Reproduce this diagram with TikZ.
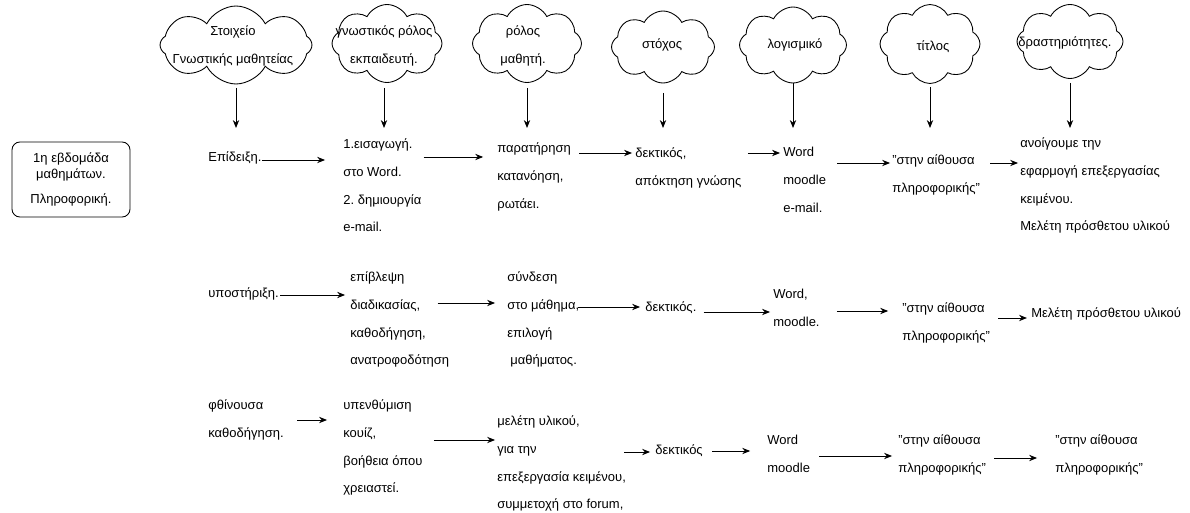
\documentclass[tikz,border=0pt]{standalone}
\usepackage{fontspec}
\setmainfont{Liberation Sans}
\usetikzlibrary{arrows.meta, positioning, shapes.symbols}
\frenchspacing

\begin{document}
\begin{tikzpicture}[x=0.02cm, y=-0.02cm,
  every node/.style={font=\fontsize{7.4}{15.9}\selectfont, inner sep=0pt},
  txt/.style={anchor=north west, align=left},
  idea/.style={cloud, draw, cloud puffs=8, cloud puff arc=125, cloud ignores aspect, line width=0.5pt},
  arr/.style={-{Stealth[length=4.5pt, width=3.6pt]}, line width=0.5pt}]
\useasboundingbox (0,0) rectangle (1190,513);

% week box
\node[draw, rounded corners=4.5pt, line width=0.5pt, minimum width=2.36cm, minimum height=1.5cm,
  align=center, font=\fontsize{7.4}{9}\selectfont] (week) at (71,179.5)
  {1η εβδομάδα\\μαθημάτων.\\[5.7pt]Πληροφορική.};

% clouds (column heads)
\node[idea, minimum width=3.04cm, minimum height=1.56cm] (k1) at (236,45) {};
\node[idea, minimum width=2.2cm, minimum height=1.56cm] (k2) at (387,43.5) {};
\node[idea, minimum width=2.18cm, minimum height=1.56cm] (k3) at (527,43.5) {};
\node[idea, minimum width=2.06cm, minimum height=1.44cm] (k4) at (663,47) {};
\node[idea, minimum width=2.14cm, minimum height=1.52cm] (k5) at (793,45) {};
\node[idea, minimum width=2.0cm, minimum height=1.58cm] (k6) at (930,44) {};
\node[idea, minimum width=2.12cm, minimum height=1.48cm] (k7) at (1070,41.5) {};
\node[align=center] (k1t) at (233,46) {Στοιχείο\\Γνωστικής μαθητείας};
\node[align=center] (k2t) at (384,46) {γνωστικός ρόλος\\εκπαιδευτή.};
\node[align=center] (k3t) at (523,46) {ρόλος\\μαθητή.};
\node (k4t) at (662,45) {στόχος};
\node (k5t) at (795,45) {λογισμικό};
\node (k6t) at (933,47) {τίτλος};
\node (k7t) at (1065,43) {δραστηριότητες.};

\draw[arr] (k1.south |- 0,88) -- (k1.south |- 0,128);
\draw[arr] (k2t.south |- 0,88) -- (k2t.south |- 0,128);
\draw[arr] (k3.south |- 0,88) -- (k3.south |- 0,128);
\draw[arr] (k4.south |- 0,93) -- (k4.south |- 0,128);
\draw[arr] (k5.south |- 0,83) -- (k5.south |- 0,128);
\draw[arr] (k6.south |- 0,87) -- (k6.south |- 0,128);
\draw[arr] (k7.south |- 0,83) -- (k7.south |- 0,128);

% row 1
\node[txt] (epid) at (208,151) {Επίδειξη.};
\node[txt] (intro) at (343,138) {1.εισαγωγή.\\στο Word.\\2. δημιουργία\\e-mail.};
\node[txt] (obs) at (497,142) {παρατήρηση\\κατανόηση,\\ρωτάει.};
\node[txt] (rec1) at (635,147) {δεκτικός,\\απόκτηση γνώσης};
\node[txt] (sw1) at (783,147) {Word\\moodle\\e-mail.};
\node[txt] (room1) at (892,154) {"στην αίθουσα\\πληροφορικής"};
\node[txt] (act1) at (1020,137) {ανοίγουμε την\\εφαρμογή επεξεργασίας\\κειμένου.\\Μελέτη πρόσθετου υλικού};

\draw[arr, shorten >=10.2pt] (epid.east |- 0,160) -- (intro.west |- 0,160);
\draw[arr, shorten <=1.1pt, shorten >=7.9pt] (intro.east |- 0,157) -- (obs.west |- 0,157);
\draw[arr, shorten <=4.5pt, shorten >=1.7pt] (obs.east |- 0,153) -- (rec1.west |- 0,153);
\draw[arr, shorten <=3.4pt, shorten >=1.7pt] (rec1.east |- 0,153) -- (sw1.west |- 0,153);
\draw[arr, shorten <=6.2pt, shorten >=1.1pt] (sw1.east |- 0,163) -- (room1.west |- 0,163);
\draw[arr, shorten <=5.7pt, shorten >=1.1pt] (room1.east |- 0,163) -- (act1.west |- 0,163);

% row 2
\node[txt] (supp) at (208,287) {υποστήριξη.};
\node[txt] (superv) at (350,271) {επίβλεψη\\διαδικασίας,\\καθοδήγηση,\\ανατροφοδότηση};
\node[txt] (conn) at (507,271) {σύνδεση\\στο μάθημα,\\επιλογή\\\hspace{1.7pt}μαθήματος.};
\node[txt] (rec2) at (645,301) {δεκτικός.};
\node[txt] (sw2) at (773,289) {Word,\\moodle.};
\node[txt] (room2) at (902,302) {"στην αίθουσα\\πληροφορικής"};
\node[txt] (study2) at (1031,307) {Μελέτη πρόσθετου υλικού};

\draw[arr, shorten <=0.6pt, shorten >=2.8pt] (supp.east |- 0,295) -- (superv.west |- 0,295);
\draw[arr, shorten <=-6.8pt, shorten >=6.8pt] (superv.east |- 0,303) -- (conn.west |- 0,303);
\draw[arr, shorten <=-1.1pt, shorten >=2.8pt] (conn.east |- 0,307) -- (rec2.west |- 0,307);
\draw[arr, shorten <=4pt, shorten >=1.7pt] (rec2.east |- 0,312) -- (sw2.west |- 0,312);
\draw[arr, shorten <=9.6pt, shorten >=7.9pt] (sw2.east |- 0,311) -- (room2.west |- 0,311);
\draw[arr, shorten <=4.5pt, shorten >=2.3pt] (room2.east |- 0,318) -- (study2.west |- 0,318);

% row 3
\node[txt] (fade) at (208,399) {φθίνουσα\\καθοδήγηση.};
\node[txt] (remind) at (343,399) {υπενθύμιση\\κουίζ,\\βοήθεια όπου\\χρειαστεί.};
\node[txt] (study3) at (497,415) {μελέτη υλικού,\\για την\\επεξεργασία κειμένου,\\συμμετοχή στο forum,};
\node[txt] (rec3) at (655,444) {δεκτικός};
\node[txt] (sw3) at (767,435) {Word\\moodle};
\node[txt] (room3) at (898,434) {"στην αίθουσα\\πληροφορικής"};
\node[txt] (room4) at (1055,434) {"στην αίθουσα\\πληροφορικής"};

\draw[arr, shorten <=7.4pt, shorten >=9.1pt] (fade.east |- 0,420) -- (remind.west |- 0,420);
\draw[arr, shorten <=6.2pt, shorten >=1.1pt] (remind.east |- 0,440) -- (study3.west |- 0,440);
\draw[arr, shorten <=-1.1pt, shorten >=2.8pt] (study3.east |- 0,452) -- (rec3.west |- 0,452);
\draw[arr, shorten <=5.1pt, shorten >=9.6pt] (rec3.east |- 0,451) -- (sw3.west |- 0,451);
\draw[arr, shorten <=5.1pt, shorten >=3.4pt] (sw3.east |- 0,456) -- (room3.west |- 0,456);
\draw[arr, shorten <=4.5pt, shorten >=10.2pt] (room3.east |- 0,458) -- (room4.west |- 0,458);
\end{tikzpicture}
\end{document}
